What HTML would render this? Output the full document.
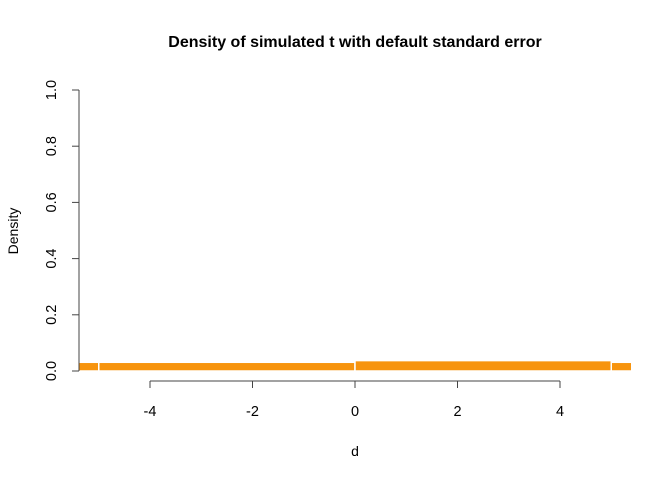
<!DOCTYPE html>
<html><head><meta charset="utf-8"><style>
body{margin:0;background:#fff}
svg text{font-family:"Liberation Sans",Arial,sans-serif;fill:#000}
</style></head><body>
<svg id="c" width="672" height="480">
<text x="355" y="47" text-anchor="middle" font-size="16" font-weight="bold">Density of simulated t with default standard error</text>
<text x="355" y="456" text-anchor="middle" font-size="14">d</text>
<text transform="translate(18,231) rotate(-90)" text-anchor="middle" font-size="14">Density</text>
<g id="bars"></g><g id="xa"></g><g id="ya"></g>
</svg>
<script>
const breaks=[-5.4,-5,0,5,5.4];
const densities=[0.031,0.031,0.037,0.031];
const xTicks=[-4,-2,0,2,4];
const yTicks=[0,0.2,0.4,0.6,0.8,1.0];
const yLabels=["0.0","0.2","0.4","0.6","0.8","1.0"];
const NS="http://www.w3.org/2000/svg";
const sx=v=>355+v*51.25, sy=v=>371-v*281;
function mk(t,a,p){const e=document.createElementNS(NS,t);for(const k in a)e.setAttribute(k,a[k]);p.appendChild(e);return e;}
const bars=document.getElementById('bars');
densities.forEach((d,i)=>{
 const r=mk('rect',{x:sx(breaks[i]),y:sy(d),width:sx(breaks[i+1])-sx(breaks[i]),height:sy(0)-sy(d),fill:'#f7940e',stroke:'#ffffff','stroke-width':1.5},bars);
 
 
});
const xa=document.getElementById('xa');
const xl=mk('line',{x1:sx(xTicks[0]),x2:sx(xTicks[xTicks.length-1]),y1:381,y2:381,stroke:'#444'},xa);


xTicks.forEach(v=>{
 mk('line',{x1:sx(v),x2:sx(v),y1:381,y2:388,stroke:'#444'},xa);
 const t=mk('text',{x:sx(v),y:416,'text-anchor':'middle','font-size':14.5},xa);t.textContent=v;
 
 
});
const ya=document.getElementById('ya');
const yl=mk('line',{x1:79,x2:79,y1:sy(1),y2:sy(0),stroke:'#444'},ya);


yTicks.forEach((v,i)=>{
 mk('line',{x1:72,x2:79,y1:sy(v),y2:sy(v),stroke:'#444'},ya);
 const t=mk('text',{transform:`translate(56,${sy(v)}) rotate(-90)`,'text-anchor':'middle','font-size':14.5},ya);t.textContent=yLabels[i];
 
 
});
</script>
</body></html>
